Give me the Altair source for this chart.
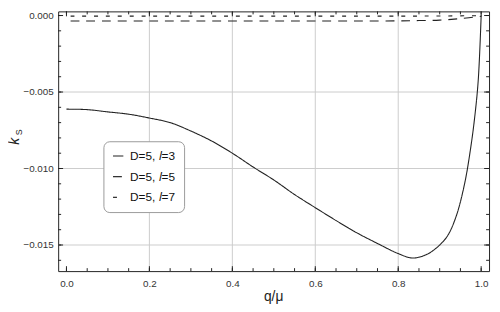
import altair as alt
import pandas as pd

# ---- data ----
q3 = [0.0, 0.05, 0.1, 0.15, 0.2, 0.25, 0.3, 0.35, 0.4, 0.45, 0.5, 0.55, 0.6, 0.65, 0.7,
      0.75, 0.8, 0.835, 0.87, 0.9, 0.92, 0.94, 0.96, 0.975, 0.985, 0.993, 1.0]
k3 = [-0.00612, -0.00615, -0.0063, -0.00645, -0.0067, -0.0070, -0.00755, -0.0082, -0.0090,
      -0.0099, -0.01075, -0.0117, -0.01256, -0.0134, -0.0142, -0.0149, -0.01556, -0.01585,
      -0.0156, -0.0150, -0.01435, -0.0131, -0.0110, -0.0086, -0.0065, -0.0042, 0.0]

q5 = [0.01, 0.2, 0.4, 0.6, 0.8, 0.85, 0.9, 0.95, 1.0]
k5 = [-0.00036, -0.00036, -0.00036, -0.00036, -0.00035, -0.00033, -0.0003, -0.0002, -0.00005]

q7 = [0.01, 0.2, 0.4, 0.6, 0.8, 0.9, 1.0]
k7 = [-0.00004, -0.00004, -0.00004, -0.00004, -0.00004, -0.00003, -0.00001]

series_names = ["D=5, 𝑙=3", "D=5, 𝑙=5", "D=5, 𝑙=7"]

x_major = [0.0, 0.2, 0.4, 0.6, 0.8, 1.0]
x_minor = [0.0, 0.05, 0.1, 0.15, 0.2, 0.25, 0.3, 0.35, 0.4, 0.45, 0.5, 0.55, 0.6, 0.65,
           0.7, 0.75, 0.8, 0.85, 0.9, 0.95, 1.0]
y_major = [0.0, -0.005, -0.010, -0.015]
y_minor = [0.0, -0.001, -0.002, -0.003, -0.004, -0.005, -0.006, -0.007, -0.008, -0.009,
           -0.010, -0.011, -0.012, -0.013, -0.014, -0.015, -0.016]
grid_x = [0.2, 0.4, 0.6, 0.8]
grid_y = [-0.005, -0.010, -0.015]

W, H = 438, 264

rows = []
for name, qs, ks in zip(series_names, [q3, q5, q7], [k3, k5, k7]):
    for i, (qq, kk) in enumerate(zip(qs, ks)):
        rows.append({"series": name, "q": qq, "k": kk, "i": i})
df = pd.DataFrame(rows)

xs = alt.Scale(domain=[-0.02, 1.019], nice=False, zero=False)
ys = alt.Scale(domain=[-0.016706, 0.00027], nice=False, zero=False)
xaxis = alt.Axis(values=x_major, format=".1f", ticks=False, domain=False, grid=False,
                 labelPadding=8, labelFontSize=10, labelColor="#333", title=None)
yaxis = alt.Axis(values=y_major, format=".3f", ticks=False, domain=False, grid=False,
                 labelPadding=5, labelFontSize=10, labelColor="#333", title=None)

X = alt.X("q:Q", scale=xs, axis=xaxis)
Y = alt.Y("k:Q", scale=ys, axis=yaxis)

gx = alt.Chart(pd.DataFrame({"q": grid_x})).mark_rule(color="#cccccc", strokeWidth=1).encode(x=X)
gy = alt.Chart(pd.DataFrame({"k": grid_y})).mark_rule(color="#cccccc", strokeWidth=1).encode(y=Y)

lines = alt.Chart(df).mark_line(color="#222222", strokeWidth=1.1, interpolate="catmull-rom").encode(
    x=X, y=Y,
    strokeDash=alt.StrokeDash(
        "series:N",
        scale=alt.Scale(domain=series_names, range=[[1, 0], [9, 7], [4, 8]]),
        legend=alt.Legend(title=None, orient="none", legendX=46, legendY=132,
                          symbolType="stroke", symbolStrokeWidth=1.2,
                          symbolStrokeColor="#222222", symbolSize=110,
                          labelFontSize=12, labelFont="Liberation Sans", labelColor="#111111",
                          fillColor="white", strokeColor="#9a9a9a", cornerRadius=6,
                          padding=9, rowPadding=9, labelOffset=6),
    ),
    order="i:Q",
)

def xt(vals, y0, y1):
    return alt.Chart(pd.DataFrame({"q": vals})).mark_rule(color="#222222", strokeWidth=1).encode(
        x=X, y=alt.value(y0), y2=alt.value(y1))

def yt(vals, x0, x1):
    return alt.Chart(pd.DataFrame({"k": vals})).mark_rule(color="#222222", strokeWidth=1).encode(
        y=Y, x=alt.value(x0), x2=alt.value(x1))

ticks = [
    xt(x_major, H, H - 5), xt(x_minor, H, H - 3),
    xt(x_major, 0, 5), xt(x_minor, 0, 3),
    yt(y_major, 0, 5), yt(y_minor, 0, 3),
    yt(y_major, W, W - 5), yt(y_minor, W, W - 3),
]

ytitle_k = alt.Chart(pd.DataFrame({"t": ["k"]})).mark_text(
    angle=270, fontSize=14, fontStyle="italic", font="Liberation Sans", color="#222222",
    align="center", baseline="alphabetic").encode(text="t:N", x=alt.value(-40), y=alt.value(132))
ytitle_s = alt.Chart(pd.DataFrame({"t": ["S"]})).mark_text(
    angle=270, fontSize=9, font="Liberation Sans", color="#222222",
    align="center", baseline="alphabetic").encode(text="t:N", x=alt.value(-37), y=alt.value(123))
xtitle = alt.Chart(pd.DataFrame({"t": ["q/μ"]})).mark_text(
    fontSize=14, font="Liberation Sans", color="#222222",
    align="center", baseline="alphabetic").encode(text="t:N", x=alt.value(W / 2), y=alt.value(294))

chart = alt.layer(gx, gy, lines, *ticks, ytitle_k, ytitle_s, xtitle).properties(
    width=W, height=H,
    autosize=alt.AutoSizeParams(type="none"),
    padding={"left": 51, "top": 1, "right": 3, "bottom": 32},
).configure(font="Liberation Sans").configure_view(stroke="#222222", strokeWidth=1)

chart.save("out.html", embed_options={"renderer": "svg", "actions": False})
